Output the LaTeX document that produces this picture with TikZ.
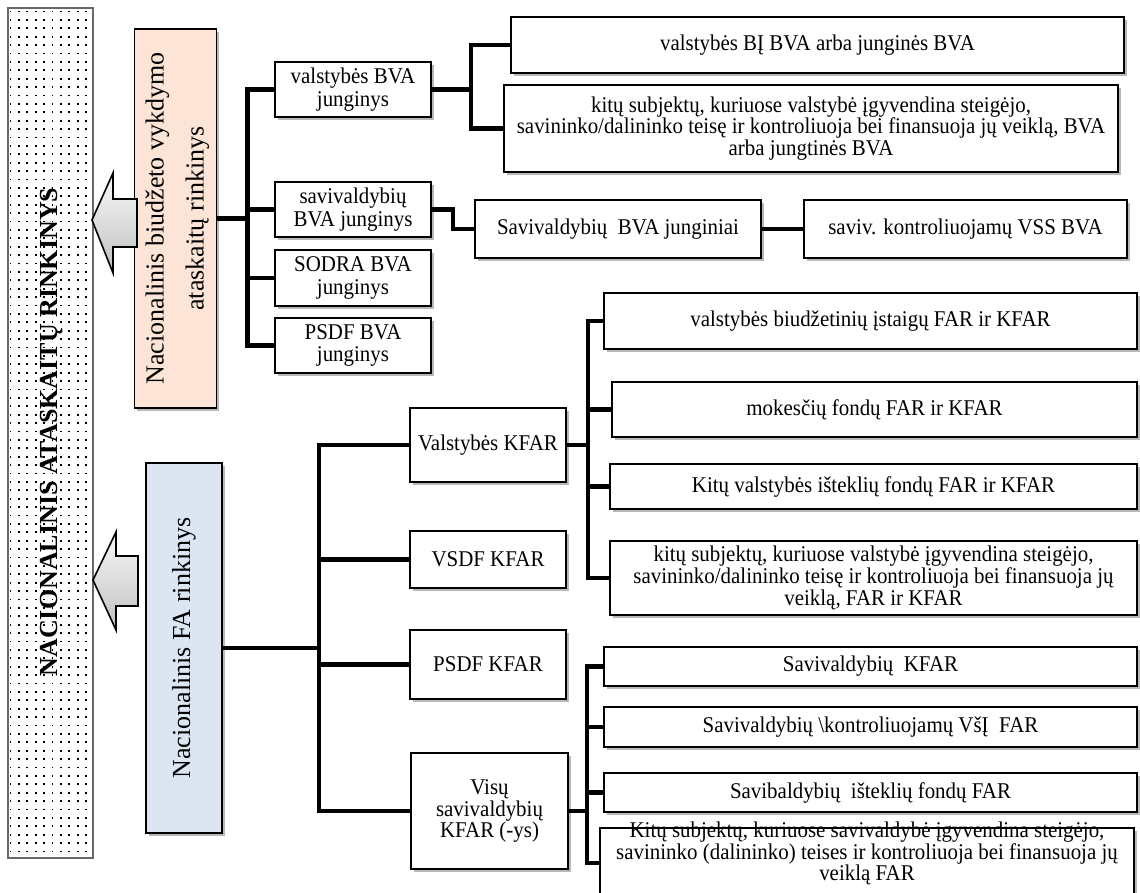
\documentclass[tikz,border=0pt]{standalone}
\usepackage{fontspec}
\usepackage{graphicx}
\setmainfont{Liberation Serif}
\newfontfamily\boxfont{Liberation Serif}[FakeStretch=0.93]
\usetikzlibrary{shadows,backgrounds}
\definecolor{peach}{RGB}{252,229,214}
\definecolor{paleblue}{RGB}{220,230,242}
\definecolor{framegray}{RGB}{105,105,105}

\tikzset{
  shade box/.style={draw=black, line width=1.8pt, inner sep=1pt,
    drop shadow={shadow xshift=2.5pt, shadow yshift=-2.5pt, fill=black, opacity=0.28}},
  box/.style={shade box, fill=white, align=center,
    font=\boxfont\fontsize{22.5}{21.8}\selectfont},
  leftbox/.style={box, minimum width=156pt, font=\boxfont\fontsize{22.5}{22.8}\selectfont},
  link/.style={line width=4.8pt, line join=miter, line cap=rect},
  bigarrow/.style={draw=black, line width=1.6pt, line join=miter,
    top color=gray!5, bottom color=gray!50},
  sidetext/.style={font=\fontsize{26}{40}\selectfont},
}

\begin{document}
\begin{tikzpicture}[x=1pt,y=-1pt]
\useasboundingbox (0,0) rectangle (1140,892);
\clip (0,0) rectangle (1140,892);

% dotted frame with the overall title
\node[draw=framegray, line width=1.5pt, minimum width=85pt, minimum height=850pt,
      inner sep=0pt] (frame) at (50.5,433) {};
\foreach \i in {0,...,9}
  \foreach \j in {0,...,100}
    \fill (9.6+\i*8.4, 10.6+\j*8.4) rectangle ++(1.7,1.7);
\node[rotate=90, font=\fontsize{26}{26}\selectfont\bfseries, inner sep=0pt]
  (title) at (51.5,432) {NACIONALINIS ATASKAITŲ RINKINYS};

% the two collections
\node[shade box, fill=peach, minimum width=75pt, minimum height=379pt, sidetext]
  (pink) at (175.5,218.5)
  {\rotatebox{90}{\begin{tabular}{@{}c@{}}Nacionalinis biudžeto vykdymo\\ataskaitų rinkinys\end{tabular}}};
\node[shade box, fill=paleblue, minimum width=76pt, minimum height=370pt, sidetext]
  (blue) at (184,648)
  {\rotatebox{90}{Nacionalinis FA rinkinys}};

% block arrows into the frame
\draw[bigarrow] (92,220) -- (113,173) -- (113,199) -- (137,199) -- (137,247)
  -- (113,247) -- (113,273) -- cycle;
\draw[bigarrow] (93,580) -- (116,532) -- (116,556) -- (138,556) -- (138,606)
  -- (116,606) -- (116,630) -- cycle;

% budget execution branch
\node[leftbox, minimum height=55pt] (vbva)  at (353,89.5)  {valstybės BVA\\junginys};
\node[leftbox, minimum height=55pt] (sbva)  at (353,209.5) {savivaldybių\\BVA junginys};
\node[leftbox, minimum height=56pt] (sodra) at (353,278)   {SODRA BVA\\junginys};
\node[leftbox, minimum height=55pt] (psdfb) at (353,345.5) {PSDF BVA\\junginys};

\node[box, minimum width=613pt, minimum height=56pt] (A1) at (817.5,45)
  {valstybės BĮ BVA arba junginės BVA};
\node[box, minimum width=614pt, minimum height=87pt] (A2) at (811,128.5)
  {kitų subjektų, kuriuose valstybė įgyvendina steigėjo,\\
   savininko/dalininko teisę ir kontroliuoja bei finansuoja jų veiklą, BVA\\
   arba jungtinės BVA};
\node[box, minimum width=286pt, minimum height=58pt] (B1) at (618,229)
  {Savivaldybių\ \ BVA junginiai};
\node[box, minimum width=323pt, minimum height=58pt] (B2) at (965.5,229)
  {saviv. kontroliuojamų VSS BVA};

% financial statements branch
\node[leftbox, minimum height=74pt] (vk)   at (488,445)   {Valstybės KFAR};
\node[leftbox, minimum height=57pt] (vsdf) at (488,559.5) {VSDF KFAR};
\node[leftbox, minimum height=69pt] (psdf) at (488,664.5) {PSDF KFAR};
\node[leftbox, minimum width=157pt, minimum height=116pt, font=\boxfont\fontsize{22.5}{21.8}\selectfont]
  (visu) at (489.5,811) {Visų\\savivaldybių\\KFAR (-ys)};

\node[box, minimum width=533pt, minimum height=56pt] (C1) at (870.5,321)
  {valstybės biudžetinių įstaigų FAR ir KFAR};
\node[box, minimum width=525pt, minimum height=55pt] (C2) at (874.5,409.5)
  {mokesčių fondų FAR ir KFAR};
\node[box, minimum width=527pt, minimum height=45pt] (C3) at (873.5,486.5)
  {Kitų valstybės išteklių fondų FAR ir KFAR};
\node[box, minimum width=527pt, minimum height=74pt] (C4) at (873.5,578)
  {kitų subjektų, kuriuose valstybė įgyvendina steigėjo,\\
   savininko/dalininko teisę ir kontroliuoja bei finansuoja jų\\
   veiklą, FAR ir KFAR};

\node[box, minimum width=533pt, minimum height=39pt] (D1) at (870.5,666.5)
  {Savivaldybių\ \ KFAR};
\node[box, minimum width=533pt, minimum height=40pt] (D2) at (870.5,727)
  {Savivaldybių \textbackslash kontroliuojamų VšĮ\ \ FAR};
\node[box, minimum width=533pt, minimum height=39pt] (D3) at (870.5,792.5)
  {Savibaldybių\ \ išteklių fondų FAR};
\node[box, minimum width=534pt, minimum height=70pt] (D4) at (867,863) {};
\node[anchor=north, align=center, inner sep=0pt, font=\boxfont\fontsize{22.5}{21.8}\selectfont]
  (D4txt) at (867,821.5)
  {Kitų subjektų, kuriuose savivaldybė įgyvendina steigėjo,\\
   savininko (dalininko) teises ir kontroliuoja bei finansuoja jų\\
   veiklą FAR};

% connectors
\begin{pgfonlayer}{background}
  \draw[link] (pink.east) -- ++(30,0) coordinate (ja);
  \foreach \n in {vbva,sbva,sodra,psdfb} \draw[link] (ja) |- (\n.west);

  \draw[link] (vbva.east) -- ++(39,0) coordinate (jb);
  \foreach \n in {A1,A2} \draw[link] (jb) |- (\n.west);

  \draw[link] (sbva.east) -- ++(21,0) |- (B1.west);
  \draw[link] (B1.east) -- (B2.west);

  \draw[link] (blue.east) -- ++(96,0) coordinate (je);
  \foreach \n in {vk,vsdf,psdf,visu} \draw[link] (je) |- (\n.west);

  \draw[link] (vk.east) -- ++(21,0) coordinate (jc);
  \foreach \n in {C1,C2,C3,C4} \draw[link] (jc) |- (\n.west);

  \draw[link] (visu.east) -- ++(18,0) coordinate (jd);
  \foreach \n in {D1,D2,D3,D4} \draw[link] (jd) |- (\n.west);
\end{pgfonlayer}
\end{tikzpicture}
\end{document}
